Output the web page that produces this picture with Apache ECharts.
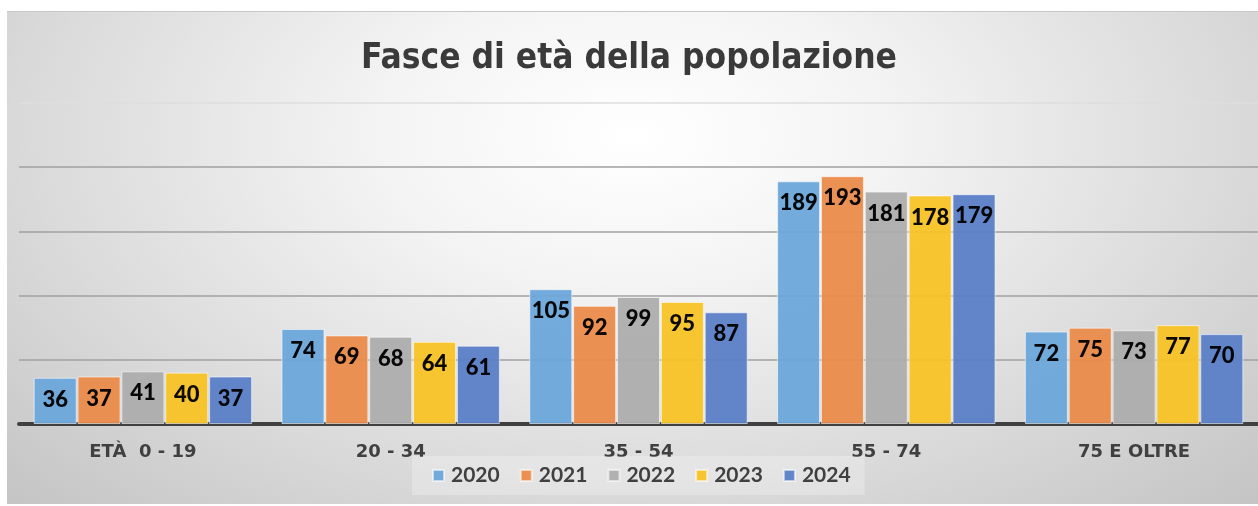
<!DOCTYPE html>
<html>
<head>
<meta charset="utf-8">
<script src="https://cdn.jsdelivr.net/npm/echarts@6/dist/echarts.min.js"></script>
<style>
  html, body { margin: 0; padding: 0; background: #ffffff; }
  #frame {
    position: absolute; left: 7px; top: 11px; width: 1251px; height: 492px;
    background: radial-gradient(ellipse farthest-corner at 50% 25%, #ffffff 0%, #f4f4f4 28%, #dadada 68%, #c4c4c4 100%);
    border-top: 1px solid #c8c8c8;
  }
  #chart { position: absolute; left: 0; top: 0; width: 1258px; height: 506px; }
</style>
</head>
<body>
<div id="frame"></div>
<div id="chart"></div>
<script>
const titleText = 'Fasce di età della popolazione';
const categories = ['ETÀ  0 - 19', '20 - 34', '35 - 54', '55 - 74', '75 E OLTRE'];
const years = ['2020', '2021', '2022', '2023', '2024'];
const s2020 = [36, 74, 105, 189, 72];
const s2021 = [37, 69, 92, 193, 75];
const s2022 = [41, 68, 99, 181, 73];
const s2023 = [40, 64, 95, 178, 77];
const s2024 = [37, 61, 87, 179, 70];
const yTicks = [0, 50, 100, 150, 200, 250];

const seriesData = [s2020, s2021, s2022, s2023, s2024];
const colors = ['#6ca6da', '#eb8b4b', '#adadad', '#f7c325', '#5b80c8'];

const chart = echarts.init(document.getElementById('chart'), null, { renderer: 'canvas' });
chart.setOption({
  backgroundColor: 'transparent',
  animation: false,
  color: colors,
  title: {
    text: titleText,
    left: 'center',
    top: 36,
    textStyle: { fontFamily: 'DejaVu Sans Condensed', fontWeight: 'bold', fontSize: 35, color: '#3a3a3a' }
  },
  legend: {
    data: years,
    left: 412,
    top: 456,
    padding: [9, 14, 9, 20],
    backgroundColor: 'rgba(255,255,255,0.25)',
    itemWidth: 11,
    itemHeight: 11,
    itemGap: 20,
    icon: 'rect',
    textStyle: { fontFamily: 'Lato', fontWeight: 'bold', fontSize: 21, color: '#404040', padding: [0, 0, 0, 2] }
  },
  grid: { left: 19, top: 103, width: 1251, height: 321, containLabel: false },
  xAxis: {
    type: 'category',
    data: categories,
    axisLine: { lineStyle: { color: '#404040', width: 4 } },
    axisTick: { show: false },
    axisLabel: { margin: 19, fontFamily: 'DejaVu Sans', fontWeight: 'bold', fontSize: 18, color: '#404040' }
  },
  yAxis: {
    type: 'value',
    min: yTicks[0],
    max: yTicks[yTicks.length - 1],
    interval: 50,
    axisLabel: { show: false },
    axisLine: { show: false },
    axisTick: { show: false },
    splitLine: { lineStyle: { color: ['#a0a0a0', '#a0a0a0', '#a0a0a0', '#a0a0a0', '#a0a0a0', '#dedede'], width: 1.5 } }
  },
  series: years.map((y, i) => ({
    name: y,
    type: 'bar',
    data: seriesData[i],
    barWidth: 43,
    barGap: '2%',
    itemStyle: { color: colors[i], opacity: 0.95, borderColor: 'rgba(255,255,255,0.6)', borderWidth: 1 },
    label: {
      show: true,
      position: 'insideTop',
      distance: 11,
      fontFamily: 'Lato',
      fontWeight: 900,
      fontSize: 22,
      color: '#000000'
    }
  }))
});
</script>
</body>
</html>
